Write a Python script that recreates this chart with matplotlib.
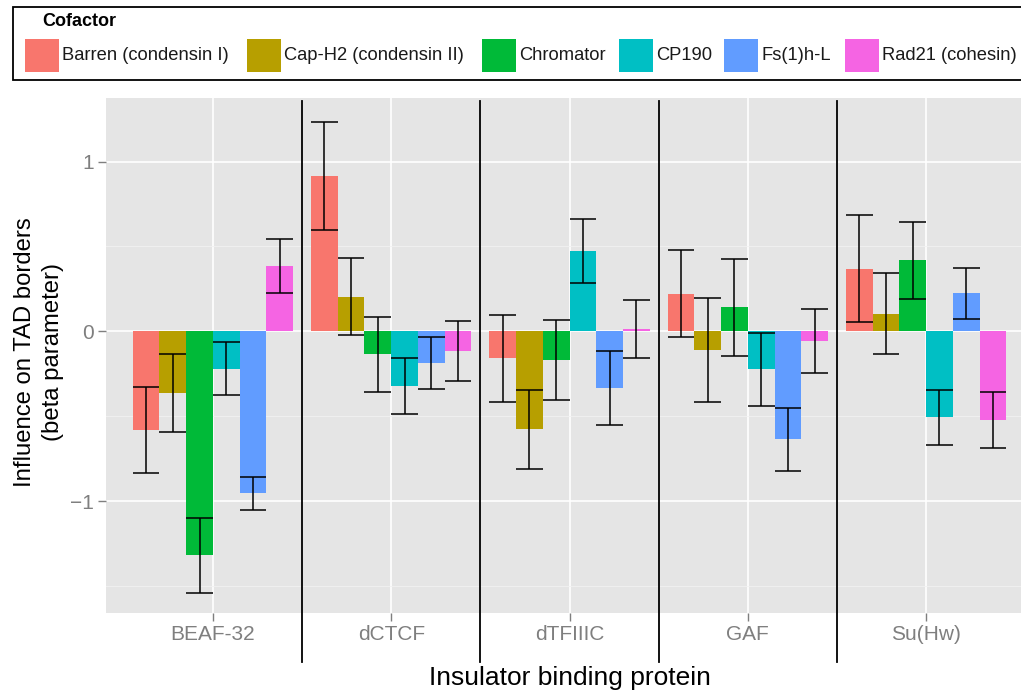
import matplotlib
matplotlib.use("Agg")
import matplotlib.pyplot as plt
from matplotlib.patches import Rectangle
import numpy as np

plt.rcParams['font.family'] = ['Liberation Sans', 'DejaVu Sans']

# ---------------- data ----------------
proteins = ["BEAF-32", "dCTCF", "dTFIIIC", "GAF", "Su(Hw)"]
cofactors = ["Barren (condensin I)", "Cap-H2 (condensin II)", "Chromator",
             "CP190", "Fs(1)h-L", "Rad21 (cohesin)"]
colors = ["#F8766D", "#B79F00", "#00BA38", "#00BFC4", "#619CFF", "#F564E3"]

beta_barren = [-0.580, 0.915, -0.160, 0.222, 0.368]
beta_caph2 = [-0.363, 0.205, -0.578, -0.112, 0.105]
beta_chromator = [-1.320, -0.135, -0.170, 0.142, 0.418]
beta_cp190 = [-0.221, -0.325, 0.472, -0.225, -0.507]
beta_fs1h = [-0.955, -0.187, -0.335, -0.637, 0.224]
beta_rad21 = [0.385, -0.118, 0.012, -0.056, -0.521]

se_barren = [0.253, 0.320, 0.256, 0.258, 0.316]
se_caph2 = [0.230, 0.229, 0.232, 0.307, 0.236]
se_chromator = [0.222, 0.222, 0.234, 0.285, 0.228]
se_cp190 = [0.157, 0.165, 0.190, 0.215, 0.163]
se_fs1h = [0.096, 0.152, 0.220, 0.187, 0.149]
se_rad21 = [0.160, 0.176, 0.172, 0.189, 0.166]

betas = [beta_barren, beta_caph2, beta_chromator, beta_cp190, beta_fs1h, beta_rad21]
ses = [se_barren, se_caph2, se_chromator, se_cp190, se_fs1h, se_rad21]

ytick_vals = [-1, 0, 1]
ytick_labels = ["\u22121", "0", "1"]

# ---------------- figure ----------------
W, H = 1021, 691
fig = plt.figure(figsize=(W / 100, H / 100), dpi=100)
fig.patch.set_facecolor("white")

def fx(px):
    return px / W

def fy(py):
    return 1 - py / H

pl, pr, pt, pb = 106, 1033, 98, 613
ax = fig.add_axes([fx(pl), fy(pb), (pr - pl) / W, (pb - pt) / H])
ax.set_facecolor("#E5E5E5")

x = np.arange(1, len(proteins) + 1)
n = len(cofactors)
bw = 0.9 / n

for j in range(n):
    xs = x + (j - (n - 1) / 2) * bw
    ax.bar(xs, betas[j], width=bw, color=colors[j], zorder=2, linewidth=0)

for j in range(n):
    xs = x + (j - (n - 1) / 2) * bw
    b = np.array(betas[j])
    s = np.array(ses[j])
    ax.vlines(xs, b - s, b + s, color="black", lw=1.1, zorder=3)
    ax.hlines(b - s, xs - bw / 2, xs + bw / 2, color="black", lw=1.1, zorder=3)
    ax.hlines(b + s, xs - bw / 2, xs + bw / 2, color="black", lw=1.1, zorder=3)

ax.set_xlim(0.4, len(proteins) + 0.6)
ax.set_ylim(-1.66, 1.375)
ax.set_yticks(ytick_vals)
ax.set_yticklabels(ytick_labels)
ax.set_yticks([-1.5, -0.5, 0.5], minor=True)
ax.set_xticks(x)
ax.set_xticklabels(proteins)
ax.set_axisbelow(True)
ax.grid(which="major", color="white", lw=1.2)
ax.grid(which="minor", axis="y", color="#F2F2F2", lw=0.6)
for s in ax.spines.values():
    s.set_visible(False)
ax.tick_params(axis="both", which="major", length=6, width=1, color="#7F7F7F",
               labelcolor="#7F7F7F", labelsize=15, pad=3)
ax.tick_params(which="minor", length=0)

for xv in x[:-1] + 0.5:
    ax.axvline(xv, ymin=-0.095, ymax=0.995, color="black", lw=1.3,
               clip_on=False, zorder=4)

fig.text(fx(39), fy(352), "Influence on TAD borders\n(beta parameter)",
         rotation=90, ha="center", va="center", fontsize=17.2,
         linespacing=1.3, color="black")
fig.text(fx(569.5), fy(678), "Insulator binding protein", ha="center",
         va="center", fontsize=19, color="black")

# ---------------- legend ----------------
fig.add_artist(Rectangle((fx(13), fy(80)), (1032 - 13) / W, 73 / H,
                         transform=fig.transFigure, facecolor="white",
                         edgecolor="black", lw=1.3))
fig.text(fx(42), fy(22), "Cofactor", fontweight="bold", fontsize=13,
         ha="left", va="center")
key_x = [25, 247, 482, 619, 724, 845]
for j in range(n):
    fig.add_artist(Rectangle((fx(key_x[j]), fy(72)), 34 / W, 33 / H,
                             transform=fig.transFigure, facecolor=colors[j],
                             edgecolor="none"))
    fig.text(fx(key_x[j] + 37), fy(56), cofactors[j], fontsize=13.2,
             ha="left", va="center", color="#1a1a1a")

fig.savefig("out.png", dpi=100)
